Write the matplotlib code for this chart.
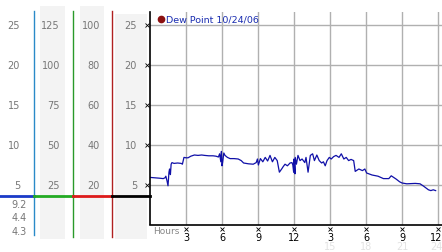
import matplotlib
matplotlib.use("Agg")
import matplotlib.pyplot as plt

# dew point readings, 10/24/06
hours = [0.0, 0.4, 0.8, 1.1, 1.25, 1.32, 1.42, 1.5, 1.58, 1.63, 1.7, 1.76, 1.83, 2.0, 2.3,
         2.6, 2.7, 2.83, 3.0, 3.17, 3.4, 3.7, 4.0, 4.3, 4.55, 4.9, 5.25, 5.5, 5.7, 5.8,
         5.9, 5.95, 6.0, 6.05, 6.15, 6.25, 6.45, 6.67, 7.0, 7.35, 7.6, 7.8, 8.2, 8.6, 8.85,
         8.95, 9.03, 9.2, 9.4, 9.6, 9.8, 10.0, 10.2, 10.4, 10.6, 10.78, 10.97, 11.1, 11.25,
         11.45, 11.67, 11.83, 11.9, 11.97, 12.0, 12.08, 12.1, 12.2, 12.33, 12.5, 12.67, 12.9,
         13.0, 13.17, 13.36, 13.55, 13.7, 13.9, 14.1, 14.3, 14.45, 14.6, 14.75, 14.94, 15.1,
         15.3, 15.5, 15.75, 15.94, 16.15, 16.35, 16.55, 16.75, 16.97, 17.1, 17.4, 17.7, 17.9,
         18.05, 18.5, 19.0, 19.45, 19.9, 20.1, 20.5, 20.8, 21.0, 21.4, 22.1, 22.5, 22.8,
         23.2, 23.4, 23.6, 23.8]
dew = [5.95, 5.9, 5.85, 5.8, 5.9, 6.1, 5.5, 4.9, 6.6, 7.0, 6.3, 7.6, 7.8, 7.7, 7.75,
       7.7, 7.6, 8.45, 8.4, 8.4, 8.6, 8.75, 8.7, 8.75, 8.7, 8.65, 8.65, 8.6, 8.5, 8.9,
       7.9, 9.2, 7.4, 7.8, 9.0, 8.7, 8.45, 8.3, 8.3, 8.25, 8.05, 7.75, 7.65, 7.6, 7.8,
       8.25, 7.5, 8.3, 7.9, 8.45, 8.0, 8.7, 7.9, 8.45, 8.05, 6.6, 7.0, 7.3, 7.6,
       7.4, 7.75, 7.8, 7.5, 6.6, 8.25, 6.4, 8.45, 7.6, 8.7, 8.05, 8.25, 7.8,
       8.45, 6.6, 8.7, 8.9, 8.05, 8.75, 8.05, 7.75, 7.9, 7.4, 8.05, 8.45, 8.25,
       8.55, 8.7, 8.45, 8.9, 8.25, 8.45, 8.05, 8.2, 8.05, 6.7, 7.0, 6.8, 7.0,
       6.5, 6.25, 6.1, 5.8, 5.8, 6.15, 5.75, 5.4, 5.25, 5.15, 5.2, 5.15, 4.85,
       4.4, 4.3, 4.4, 4.3]

y_ticks = [5, 10, 15, 20, 25]
col1_labels = ["5", "10", "15", "20", "25"]
col2_labels = ["25", "50", "75", "100", "125"]
col3_labels = ["20", "40", "60", "80", "100"]
col4_labels = ["5", "10", "15", "20", "25"]
stats = ["9.2", "4.4", "4.3"]
x_ticks = [3, 6, 9, 12, 15, 18, 21, 24]
x_labels = ["3", "6", "9", "12", "3", "6", "9", "12"]
x_labels24 = ["15", "18", "21", "24"]

W, H = 442, 253
fig = plt.figure(figsize=(W / 100, H / 100), dpi=100)

# pixel helper: y pixel -> data value (0 at y=226, 8 px per unit)
def pv(ypix):
    return (226 - ypix) / 8.0

ymax = pv(13)
bottom = 1 - 226 / H
height = (226 - 13) / H

ax = fig.add_axes([150 / W, bottom, (W - 150) / W, height])
ax.patch.set_visible(False)
ax.set_xlim(0, 24.33)
ax.set_ylim(0, ymax)
for v in y_ticks:
    ax.axhline(v, color="#b0b0b0", lw=1, zorder=1)
for v in x_ticks:
    ax.axvline(v, color="#b0b0b0", lw=1, zorder=1)
ax.plot(hours, dew, color="#1010a8", lw=0.9, zorder=3)
for s in ["top", "right"]:
    ax.spines[s].set_visible(False)
ax.spines["left"].set_visible(False)
ax.spines["bottom"].set_linewidth(1.2)
ax.set_xticks([])
ax.set_yticks([])

# legend
ax.plot([0.9], [pv(20)], "o", color="#8b1010", ms=4.5, clip_on=False, zorder=5)
ax.text(1.3, pv(20), "Dew Point 10/24/06", color="#1a2db0", fontsize=6.8,
        va="center", ha="left")

# x labels and marks
ax.text(0.25, pv(232), "Hours", color="#888888", fontsize=6.5, va="center", ha="left")
for xv, lab in zip(x_ticks, x_labels):
    ax.plot([xv], [pv(229.5)], "x", color="black", ms=2.5, mew=0.6, clip_on=False)
    ax.text(min(xv, 23.85), pv(238), lab, color="black", fontsize=7,
            va="center", ha="center")
for xv, lab in zip(x_ticks[4:], x_labels24):
    ax.text(min(xv, 23.85), pv(247.5), lab, color="#e2e2e2", fontsize=7,
            va="center", ha="center")

# left panel with extra scales
lax = fig.add_axes([0, bottom, 150 / W, height])
lax.set_xlim(0, 150)
lax.set_ylim(0, ymax)
lax.axis("off")

for x0, x1, top in [(40, 65, 7), (80, 104, 7), (115, 147, 15)]:
    lax.fill_between([x0, x1], pv(240), pv(top), color="#f3f3f3", lw=0,
                     clip_on=False, zorder=0)

for col_x, labels in [(20, col1_labels), (60, col2_labels), (100, col3_labels),
                      (137, col4_labels)]:
    for v, lab in zip(y_ticks, labels):
        lax.text(col_x, v, lab, color="#777777", fontsize=7, ha="right", va="center")

for v in y_ticks:
    lax.plot([146.5], [v], "x", color="black", ms=2.5, mew=0.6, clip_on=False)

for i, lab in enumerate(stats):
    lax.text(27, pv(205 + 13.5 * i), lab, color="#777777", fontsize=7,
             ha="right", va="center")

lax.plot([33.5, 33.5], [pv(12), pv(236)], color="#2a8ac8", lw=1, clip_on=False)
lax.plot([72.5, 72.5], [pv(12), pv(238)], color="#2a9a2a", lw=1, clip_on=False)
lax.plot([111.5, 111.5], [pv(12), pv(238)], color="#b02020", lw=1, clip_on=False)
lax.plot([149.5, 149.5], [pv(13), pv(225)], color="black", lw=1.2, clip_on=False)

yline = pv(197)
lax.plot([0, 33.5], [yline, yline], color="#1a3ac8", lw=2, clip_on=False)
lax.plot([33.5, 72.5], [yline, yline], color="#22aa22", lw=2, clip_on=False)
lax.plot([72.5, 111.5], [yline, yline], color="#dd1a1a", lw=2, clip_on=False)
lax.plot([111.5, 150], [yline, yline], color="black", lw=2, clip_on=False)

fig.savefig("out.png", dpi=100)
